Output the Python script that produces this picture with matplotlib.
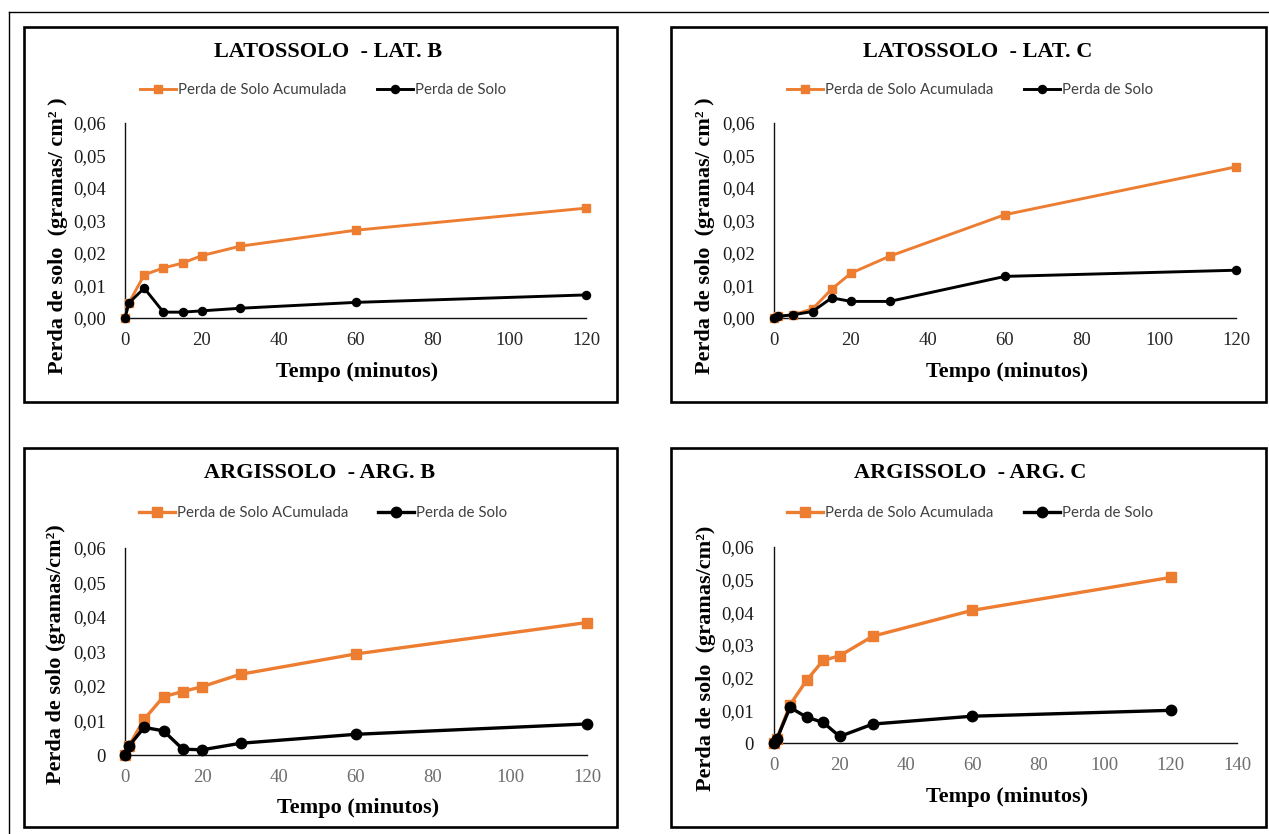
import matplotlib
matplotlib.use("Agg")
import matplotlib.pyplot as plt
from matplotlib.patches import Rectangle
from matplotlib.lines import Line2D

W, H = 1269, 834

tempo = [0, 1, 5, 10, 15, 20, 30, 60, 120]

latB_acum = [0, 0.0046, 0.0133, 0.0154, 0.0169, 0.0192, 0.0221, 0.0270, 0.0338]
latB_perda = [0, 0.0046, 0.0092, 0.0018, 0.0018, 0.0022, 0.0030, 0.0048, 0.0071]
latC_acum = [0, 0.0005, 0.0010, 0.0028, 0.0089, 0.0138, 0.0190, 0.0318, 0.0465]
latC_perda = [0, 0.0005, 0.0010, 0.0020, 0.0062, 0.0051, 0.0051, 0.0128, 0.0147]
argB_acum = [0, 0.0026, 0.0104, 0.0169, 0.0184, 0.0198, 0.0234, 0.0293, 0.0384]
argB_perda = [0, 0.0026, 0.0080, 0.0070, 0.0017, 0.0015, 0.0034, 0.0060, 0.0090]
argC_acum = [0, 0.0012, 0.0117, 0.0192, 0.0253, 0.0267, 0.0327, 0.0406, 0.0507]
argC_perda = [0, 0.0012, 0.0109, 0.0079, 0.0063, 0.0020, 0.0058, 0.0082, 0.0100]

titles = ["LATOSSOLO  - LAT. B", "LATOSSOLO  - LAT. C",
          "ARGISSOLO  - ARG. B", "ARGISSOLO  - ARG. C"]
legend_acum = ["Perda de Solo Acumulada", "Perda de Solo Acumulada",
               "Perda de Solo ACumulada", "Perda de Solo Acumulada"]
legend_perda = "Perda de Solo"
ylabels = ["Perda de solo  (gramas/ cm² )", "Perda de solo  (gramas/ cm² )",
           "Perda de solo (gramas/cm²)", "Perda de solo  (gramas/cm²)"]
xlabel = "Tempo (minutos)"

y_ticks = [0, 0.01, 0.02, 0.03, 0.04, 0.05, 0.06]
ytl_lat = ["0,00", "0,01", "0,02", "0,03", "0,04", "0,05", "0,06"]
ytl_arg = ["0", "0,01", "0,02", "0,03", "0,04", "0,05", "0,06"]
x_ticks_120 = [0, 20, 40, 60, 80, 100, 120]
x_ticks_140 = [0, 20, 40, 60, 80, 100, 120, 140]

ORANGE = "#ED7D31"
SERIF = "Liberation Serif"
SANS = "Lato"

fig = plt.figure(figsize=(W / 100, H / 100), dpi=100)
fig.patch.set_facecolor("white")


def fx(x):
    return x / W


def fy(y):
    return 1 - y / H


# outer frame (left + top visible)
fig.add_artist(Line2D([fx(9), fx(9)], [fy(12), fy(834)], color="black", lw=1.0,
                      transform=fig.transFigure))
fig.add_artist(Line2D([fx(9), fx(1269)], [fy(12), fy(12)], color="black", lw=1.0,
                      transform=fig.transFigure))

panels = [
    dict(box=(24, 27, 617, 402), ax=(125, 123, 586, 318), acum=latB_acum, perda=latB_perda,
         ytl=ytl_lat, xt=x_ticks_120, xmax=120, title_xy=(328, 52), leg_xy=(323, 90),
         ylab_xy=(58, 236), xlab_y=372, xtick_col="#262626", lw=2.1, ms=5.8),
    dict(box=(671, 27, 1266, 402), ax=(774, 123, 1236, 318), acum=latC_acum, perda=latC_perda,
         ytl=ytl_lat, xt=x_ticks_120, xmax=120, title_xy=(978, 52), leg_xy=(970, 90),
         ylab_xy=(705, 236), xlab_y=372, xtick_col="#262626", lw=2.1, ms=5.8),
    dict(box=(24, 448, 617, 827), ax=(125, 548, 587, 755), acum=argB_acum, perda=argB_perda,
         ytl=ytl_arg, xt=x_ticks_120, xmax=120, title_xy=(320, 473), leg_xy=(323, 513),
         ylab_xy=(56, 654), xlab_y=808, xtick_col="#6e6e6e", lw=2.4, ms=7.5),
    dict(box=(671, 448, 1266, 827), ax=(773.5, 547, 1237, 743), acum=argC_acum, perda=argC_perda,
         ytl=ytl_arg, xt=x_ticks_140, xmax=140, title_xy=(970, 473), leg_xy=(970, 513),
         ylab_xy=(706, 658), xlab_y=797, xtick_col="#6e6e6e", lw=2.4, ms=7.5),
]

for i, p in enumerate(panels):
    x0, y0, x1, y1 = p["box"]
    fig.add_artist(Rectangle((fx(x0), fy(y1)), fx(x1) - fx(x0), fy(y0) - fy(y1),
                             transform=fig.transFigure, fill=False, ec="black", lw=1.9))
    ax0, ay0, ax1, ay1 = p["ax"]
    ax = fig.add_axes([fx(ax0), fy(ay1), fx(ax1) - fx(ax0), fy(ay0) - fy(ay1)])
    ax.set_facecolor("none")
    l1, = ax.plot(tempo, p["acum"], color=ORANGE, lw=p["lw"], marker="s", ms=p["ms"],
                  clip_on=False, zorder=3)
    l2, = ax.plot(tempo, p["perda"], color="black", lw=p["lw"], marker="o", ms=p["ms"],
                  clip_on=False, zorder=4)
    ax.set_xlim(0, p["xmax"])
    ax.set_ylim(0, 0.06)
    ax.set_xticks(p["xt"])
    ax.set_xticklabels([str(v) for v in p["xt"]], fontfamily=SERIF, fontsize=13.5,
                       color=p["xtick_col"])
    ax.set_yticks(y_ticks)
    ax.set_yticklabels(p["ytl"], fontfamily=SERIF, fontsize=13.5, color="#1a1a1a")
    ax.tick_params(length=0, pad=10)
    ax.tick_params(axis="y", pad=14)
    for s in ["top", "right"]:
        ax.spines[s].set_visible(False)
    for s in ["left", "bottom"]:
        ax.spines[s].set_linewidth(1.0)
        ax.spines[s].set_color("#111111")
    ax.spines["left"].set_zorder(1)
    ax.spines["bottom"].set_zorder(1)

    tx, ty = p["title_xy"]
    fig.text(fx(tx), fy(ty), titles[i], ha="center", va="center", fontfamily=SERIF,
             fontweight="bold", fontsize=16)
    lx, lyy = p["leg_xy"]
    fig.legend([l1, l2], [legend_acum[i], legend_perda], loc="center",
               bbox_to_anchor=(fx(lx), fy(lyy)), ncol=2, frameon=False,
               prop=dict(family=SANS, size=10.8), handlelength=2.4, handletextpad=0.15,
               columnspacing=2.0, borderpad=0, labelcolor="#404040")
    yx, yy = p["ylab_xy"]
    fig.text(fx(yx), fy(yy), ylabels[i], ha="center", va="center", rotation=90,
             fontfamily=SERIF, fontweight="bold", fontsize=16)
    fig.text(fx((ax0 + ax1) / 2 + 2), fy(p["xlab_y"]), xlabel, ha="center", va="center",
             fontfamily=SERIF, fontweight="bold", fontsize=16)

fig.savefig("out.png", dpi=100, facecolor="white")
